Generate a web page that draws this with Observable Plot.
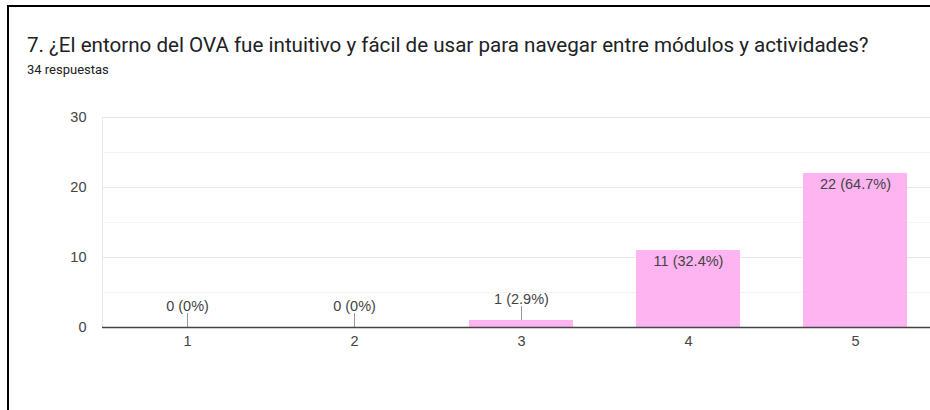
<!DOCTYPE html>
<html>
<head>
<meta charset="utf-8">
<script src="https://cdn.jsdelivr.net/npm/d3@7"></script>
<script src="https://cdn.jsdelivr.net/npm/@observablehq/plot@0.6"></script>
<style>
  html, body { margin: 0; padding: 0; background: #fff; }
  #page { position: relative; width: 930px; height: 410px; overflow: hidden; }
  #border { position: absolute; left: 7px; top: 5px; width: 930px; height: 420px;
            border-left: 2px solid #000; border-top: 2px solid #000; }
  #title { position: absolute; left: 27px; top: 33px; font-family: Roboto, sans-serif;
           font-size: 20.6px; color: #202124; white-space: nowrap; }
  #subtitle { position: absolute; left: 27px; top: 62px; font-family: Roboto, sans-serif;
              font-size: 13px; color: #202124; white-space: nowrap; }
  #chart { position: absolute; left: 0; top: 90px; }
</style>
</head>
<body>
<div id="page">
  <div id="border"></div>
  <div id="title"></div>
  <div id="subtitle"></div>
  <div id="chart"></div>
</div>
<script>
const titleText = "7. ¿El entorno del OVA fue intuitivo y fácil de usar para navegar entre módulos y actividades?";
const subtitleText = "34 respuestas";
const categories = ["1", "2", "3", "4", "5"];
const counts = [0, 0, 1, 11, 22];
const percents = ["0%", "0%", "2.9%", "32.4%", "64.7%"];
const yTicks = [0, 10, 20, 30];
const minorTicks = [5, 15, 25];

document.getElementById("title").textContent = titleText;
document.getElementById("subtitle").textContent = subtitleText;

const data = categories.map((c, i) => ({cat: c, count: counts[i], label: `${counts[i]} (${percents[i]})`}));
const outside = data.filter(d => d.count < 3);
const inside = data.filter(d => d.count >= 3);

const chart = Plot.plot({
  width: 930,
  height: 290,
  marginLeft: 102,
  marginRight: 0,
  marginTop: 27,
  marginBottom: 53,
  style: {fontFamily: "'Liberation Sans', Arial, sans-serif", fontSize: "14.5px", color: "#444", background: "transparent"},
  x: {domain: categories, range: [102, 940], paddingInner: 0.38, paddingOuter: 0.19, label: null},
  y: {domain: [0, 30], label: null},
  marks: [
    Plot.ruleY(minorTicks, {stroke: "#f3f3f3"}),
    Plot.ruleY(yTicks.filter(t => t > 0), {stroke: "#e8e8e8"}),
    Plot.frame({anchor: "left", stroke: "#e8e8e8"}),
    Plot.barY(data, {x: "cat", y: "count", fill: "#feb4f1"}),
    Plot.ruleX(outside, {x: "cat", y1: "count", y2: d => d.count + 2, stroke: "#999"}),
    Plot.ruleY([0], {stroke: "#444", strokeWidth: 1.5}),
    Plot.text(outside, {x: "cat", y: "count", text: "label", dy: -21, fill: "#444", fontSize: 14.5}),
    Plot.text(inside, {x: "cat", y: "count", text: "label", dy: 11, fill: "#444", fontSize: 14.5}),
    Plot.axisY({ticks: yTicks, tickSize: 0, tickPadding: 16, label: null}),
    Plot.axisX({tickSize: 0, tickPadding: 8, label: null})
  ]
});
document.getElementById("chart").appendChild(chart);
</script>
</body>
</html>
